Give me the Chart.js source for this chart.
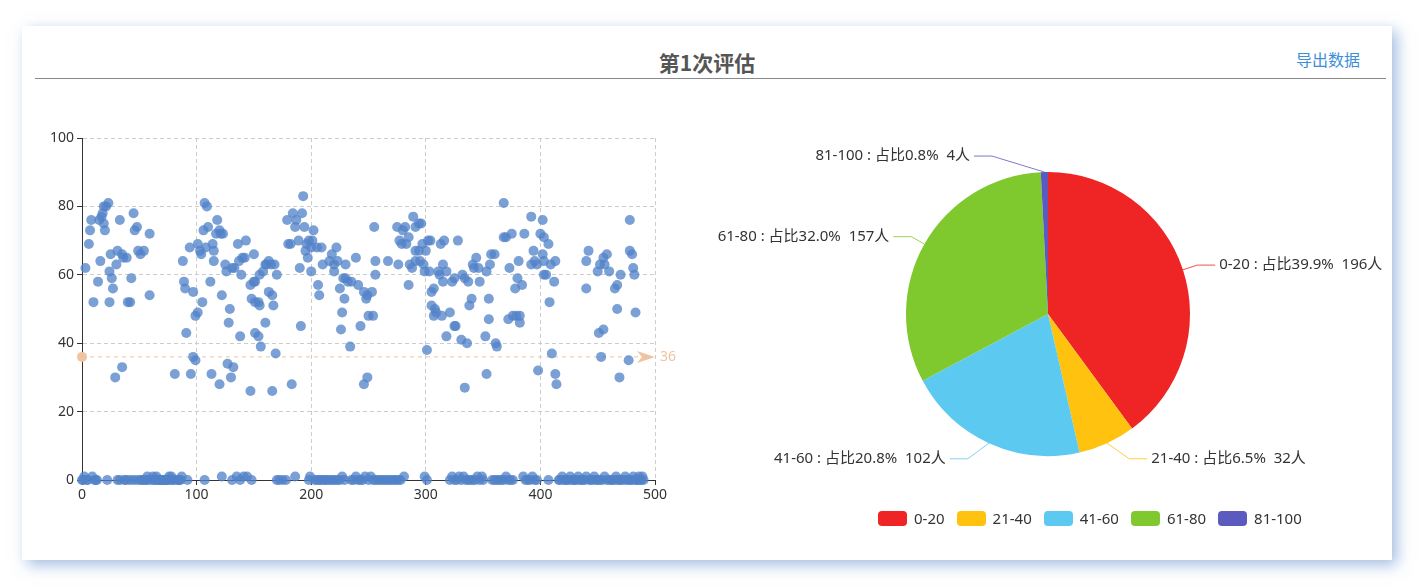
<!DOCTYPE html>
<html>
<head>
<meta charset="utf-8">
<script src="https://cdn.jsdelivr.net/npm/chart.js@4.4.0/dist/chart.umd.min.js"></script>
<style>
html, body { margin: 0; padding: 0; background: #fff; overflow: hidden; }
body { width: 1428px; height: 586px; position: relative; font-family: "Noto Sans CJK SC", "Noto Sans", sans-serif; }
.card { position: absolute; left: 22px; top: 26px; width: 1370px; height: 534px; background: #fff;
  box-shadow: 5px 5px 14px rgba(90, 135, 200, 0.55); }
.title { position: absolute; left: 22px; width: 1370px; top: 49px; line-height: 26px; text-align: center;
  font-size: 21px; font-weight: bold; color: #555; }
.export { position: absolute; left: 1296px; top: 48px; line-height: 22px; font-size: 16px; color: #3d8fd8; }
.rule { position: absolute; left: 35px; top: 78px; width: 1351px; height: 1px; background: #8a8a8a; }
#scatter { position: absolute; left: 35px; top: 110px; }
#pie { position: absolute; left: 700px; top: 100px; }
.legend { position: absolute; left: 878px; top: 511px; display: flex; align-items: center;
  font-family: "Noto Sans", sans-serif; font-size: 15px; color: #333; }
.legend span.box { display: inline-block; width: 29px; height: 15px; border-radius: 4px; margin-right: 7px; }
.legend div { display: flex; align-items: center; margin-right: 12px; line-height: 15px; }
</style>
</head>
<body>
<div class="card"></div>
<div class="title">第1次评估</div>
<div class="export">导出数据</div>
<div class="rule"></div>
<canvas id="scatter" width="660" height="400"></canvas>
<canvas id="pie" width="700" height="430"></canvas>
<div class="legend" id="legend"></div>
<script>
// scores above 20 (student no. / score)
const scoreX = [
  3, 6, 7, 8, 10, 14, 15, 16, 17, 18,
  19, 19, 20, 21, 23, 24, 24, 25, 26, 27,
  29, 30, 31, 33, 35, 35, 36, 39, 40, 42,
  43, 45, 46, 48, 49, 51, 54, 59, 59, 81,
  88, 89, 90, 91, 94, 95, 97, 97, 99, 99,
  101, 101, 103, 104, 105, 106, 107, 108, 109, 110,
  112, 113, 114, 115, 115, 117, 118, 120, 120, 121,
  122, 123, 125, 126, 127, 128, 129, 130, 131, 132,
  133, 136, 137, 138, 139, 140, 142, 143, 147, 147,
  148, 150, 150, 151, 151, 151, 154, 154, 155, 155,
  156, 158, 160, 160, 161, 163, 163, 165, 166, 166,
  167, 168, 169, 170, 179, 180, 182, 183, 184, 186,
  187, 189, 190, 191, 192, 193, 194, 195, 196, 197,
  198, 200, 200, 201, 202, 205, 206, 207, 209, 210,
  216, 218, 220, 220, 222, 223, 225, 226, 227, 228,
  229, 230, 230, 232, 234, 235, 239, 241, 243, 246,
  246, 248, 249, 249, 250, 253, 254, 255, 256, 256,
  267, 275, 276, 277, 279, 280, 282, 283, 285, 285,
  286, 288, 289, 291, 291, 291, 294, 294, 295, 296,
  297, 298, 299, 300, 301, 302, 303, 304, 305, 305,
  307, 307, 308, 309, 311, 312, 313, 314, 315, 315,
  316, 318, 318, 321, 323, 325, 325, 326, 328, 331,
  332, 334, 334, 336, 337, 338, 340, 341, 342, 344,
  346, 347, 352, 353, 353, 355, 355, 356, 357, 360,
  361, 362, 368, 368, 370, 372, 373, 375, 376, 378,
  379, 380, 381, 382, 382, 384, 386, 392, 392, 394,
  395, 397, 398, 400, 402, 402, 403, 403, 403, 405,
  407, 408, 409, 410, 412, 413, 413, 414, 440, 440,
  442, 450, 451, 452, 453, 455, 455, 456, 458, 460,
  465, 467, 467, 469, 470, 477, 478, 478, 480, 481,
  482, 483
];
const scoreY = [
  62, 69, 73, 76, 52, 58, 76, 64, 77, 78,
  75, 80, 73, 80, 81, 52, 61, 66, 59, 56,
  30, 63, 67, 76, 33, 66, 65, 65, 52, 52,
  59, 78, 73, 74, 67, 66, 67, 72, 54, 31,
  64, 58, 56, 43, 68, 31, 55, 36, 35, 48,
  49, 69, 67, 66, 52, 73, 81, 68, 80, 74,
  58, 31, 69, 67, 64, 72, 76, 73, 28, 72,
  54, 72, 63, 61, 34, 46, 50, 30, 62, 33,
  62, 69, 64, 42, 60, 65, 65, 70, 26, 57,
  53, 58, 66, 58, 52, 43, 52, 42, 51, 60,
  39, 61, 63, 46, 63, 64, 55, 63, 54, 26,
  51, 63, 37, 60, 76, 69, 69, 28, 78, 74,
  76, 70, 62, 45, 78, 83, 74, 67, 69, 65,
  70, 68, 61, 70, 73, 68, 57, 54, 68, 63,
  64, 66, 63, 61, 68, 64, 56, 44, 49, 59,
  53, 59, 63, 58, 39, 58, 65, 57, 45, 28,
  55, 53, 30, 54, 48, 55, 48, 74, 60, 64,
  64, 74, 63, 70, 69, 73, 74, 69, 57, 71,
  63, 62, 77, 74, 67, 64, 75, 67, 64, 75,
  69, 63, 61, 67, 38, 70, 61, 70, 55, 51,
  56, 48, 50, 49, 61, 60, 69, 48, 63, 58,
  70, 61, 42, 49, 58, 59, 45, 45, 70, 41,
  60, 59, 27, 40, 58, 51, 53, 63, 62, 65,
  62, 58, 42, 31, 61, 47, 53, 63, 66, 66,
  40, 39, 81, 71, 71, 47, 62, 72, 48, 56,
  48, 59, 64, 48, 46, 57, 72, 77, 63, 67,
  64, 63, 32, 72, 76, 66, 64, 71, 60, 60,
  69, 52, 63, 37, 58, 64, 31, 28, 64, 56,
  67, 61, 43, 63, 36, 65, 44, 63, 66, 61,
  56, 57, 50, 30, 60, 35, 76, 67, 66, 62,
  60, 49
];
// scores at the bottom (0 - 1)
const lowX = [
  0, 1, 2, 4, 5, 9, 11, 12, 13, 22,
  31, 33, 37, 38, 41, 44, 47, 50, 52, 53,
  55, 56, 57, 58, 61, 62, 63, 64, 65, 66,
  67, 68, 69, 70, 71, 72, 73, 74, 75, 76,
  77, 78, 79, 80, 83, 84, 85, 86, 87, 92,
  107, 122, 131, 135, 138, 141, 144, 148, 170, 172,
  175, 178, 186, 199, 198, 203, 205, 207, 208, 210,
  212, 213, 215, 217, 219, 221, 223, 225, 227, 229,
  235, 237, 239, 241, 243, 245, 247, 250, 252, 254,
  256, 258, 260, 262, 264, 266, 268, 270, 272, 274,
  276, 278, 281, 299, 301, 321, 323, 325, 327, 329,
  331, 333, 335, 337, 339, 341, 343, 345, 347, 349,
  350, 358, 360, 362, 364, 366, 368, 370, 372, 374,
  376, 385, 387, 389, 391, 393, 395, 397, 407, 416,
  417, 419, 420, 422, 423, 424, 426, 427, 429, 430,
  431, 433, 434, 436, 437, 439, 440, 443, 444, 446,
  447, 449, 450, 452, 454, 456, 458, 460, 462, 463,
  465, 466, 468, 469, 471, 473, 474, 476, 477, 479,
  480, 481, 483, 484, 485, 486, 487, 488, 489, 490
];
const lowY = [
  0, 0, 1, 0, 0, 1, 0, 0, 0, 0,
  0, 0, 0, 0, 0, 0, 0, 0, 0, 0,
  0, 0, 1, 0, 0, 1, 0, 0, 1, 0,
  0, 0, 0, 0, 0, 0, 0, 0, 0, 1,
  0, 1, 0, 0, 0, 0, 0, 0, 1, 0,
  0, 1, 0, 1, 0, 1, 1, 0, 0, 0,
  0, 0, 1, 1, 0, 0, 0, 0, 0, 0,
  0, 0, 0, 0, 0, 0, 0, 0, 1, 0,
  0, 0, 1, 0, 0, 0, 1, 0, 1, 0,
  0, 0, 0, 0, 0, 0, 0, 0, 0, 0,
  0, 0, 1, 1, 0, 0, 1, 0, 0, 1,
  0, 1, 0, 0, 0, 0, 0, 1, 0, 1,
  0, 0, 0, 0, 0, 0, 0, 1, 0, 0,
  0, 1, 0, 0, 0, 1, 0, 0, 0, 0,
  0, 1, 0, 0, 0, 0, 1, 0, 0, 0,
  0, 1, 0, 0, 0, 0, 1, 0, 0, 0,
  1, 0, 0, 0, 0, 1, 0, 0, 0, 0,
  0, 1, 0, 0, 0, 0, 1, 0, 0, 0,
  0, 1, 0, 0, 0, 1, 0, 0, 1, 0
];
const avgScore = 36;

const bands = ['0-20', '21-40', '41-60', '61-80', '81-100'];
const bandCount = [196, 32, 102, 157, 4];
const pieColors = ['#ee2524', '#ffc20e', '#5cc9f0', '#7fc92f', '#5a5abf'];

const xTicks = [0, 100, 200, 300, 400, 500];
const yTicks = [0, 20, 40, 60, 80, 100];

const markColor = '#eec4a2';
const tickFont = { family: '"Noto Sans", sans-serif', size: 14 };

const points = scoreX.map((x, i) => ({ x: x, y: scoreY[i] }))
  .concat(lowX.map((x, i) => ({ x: x, y: lowY[i] })));

// average line like an echarts markLine
const avgLine = {
	id: 'avgLine',
	beforeDatasetsDraw(chart) {
		const { ctx, scales: { x, y } } = chart;
		const py = y.getPixelForValue(avgScore);
		const x0 = x.getPixelForValue(xTicks[0]);
		const x1 = x.getPixelForValue(xTicks[xTicks.length - 1]);
		ctx.save();
		ctx.strokeStyle = markColor;
		ctx.fillStyle = markColor;
		ctx.lineWidth = 1;
		ctx.setLineDash([4, 4]);
		ctx.beginPath();
		ctx.moveTo(x0, py);
		ctx.lineTo(x1 - 10, py);
		ctx.stroke();
		ctx.setLineDash([]);
		ctx.beginPath();
		ctx.arc(x0, py, 5, 0, Math.PI * 2);
		ctx.fill();
		ctx.beginPath();
		ctx.moveTo(x1, py);
		ctx.lineTo(x1 - 18, py - 6);
		ctx.lineTo(x1 - 13, py);
		ctx.lineTo(x1 - 18, py + 6);
		ctx.closePath();
		ctx.fill();
		ctx.font = '14px "Noto Sans", sans-serif';
		ctx.textBaseline = 'middle';
		ctx.fillText(String(avgScore), x1 + 5, py);
		ctx.restore();
	},
};

const scatterChart = new Chart(document.getElementById('scatter'), {
	type: 'scatter',
	data: {
		datasets: [
			{
				data: points,
				backgroundColor: 'rgba(82, 130, 200, 0.76)',
				borderWidth: 0,
				pointRadius: 5,
				pointHoverRadius: 5,
				clip: false,
			},
		],
	},
	options: {
		responsive: false,
		animation: false,
		layout: { padding: { left: 0, top: 28, right: 40, bottom: 0 } },
		plugins: { legend: { display: false }, tooltip: { enabled: false } },
		scales: {
			x: {
				type: 'linear',
				min: xTicks[0],
				max: xTicks[xTicks.length - 1],
				afterBuildTicks: (s) => { s.ticks = xTicks.map((v) => ({ value: v })) },
				afterFit: (s) => { s.height = 30 },
				ticks: { color: '#333', font: tickFont, padding: 2, maxRotation: 0 },
				grid: { color: '#ccc', tickColor: '#333', tickLength: 5 },
				border: { color: '#333', width: 1, dash: [4, 3] },
			},
			y: {
				min: yTicks[0],
				max: yTicks[yTicks.length - 1],
				afterBuildTicks: (s) => { s.ticks = yTicks.map((v) => ({ value: v })) },
				afterFit: (s) => { s.width = 47 },
				ticks: { color: '#333', font: tickFont, padding: 3 },
				grid: { color: '#ccc', tickColor: '#333', tickLength: 5 },
				border: { color: '#333', width: 1, dash: [4, 3] },
			},
		},
	},
	plugins: [avgLine],
});

// pie labels with leader lines
const bendShift = [0, 16, 15, 0, 52]
const bendDrop = [0, 2, 2, 0, -1]
const pieLabels = {
	id: 'pieLabels',
	afterDatasetsDraw(chart) {
		const ctx = chart.ctx;
		const total = bandCount.reduce((a, b) => a + b, 0);
		chart.getDatasetMeta(0).data.forEach((arc, i) => {
			const { x, y, startAngle, endAngle, outerRadius } = arc;
			const mid = (startAngle + endAngle) / 2;
			const c = Math.cos(mid), s = Math.sin(mid);
			const side = c >= 0 ? 1 : -1;
			const sx = x + outerRadius * c, sy = y + outerRadius * s;
			const bx = x + (outerRadius + 15) * c + side * bendShift[i];
			const by = y + (outerRadius + 15) * s + bendDrop[i];
			const ex = bx + side * 18;
			ctx.save();
			ctx.strokeStyle = pieColors[i];
			ctx.globalAlpha = 0.8;
			ctx.lineWidth = 1;
			ctx.beginPath();
			ctx.moveTo(sx, sy);
			ctx.lineTo(bx, by);
			ctx.lineTo(ex, by);
			ctx.stroke();
			ctx.globalAlpha = 1;
			const pct = ((bandCount[i] / total) * 100).toFixed(1);
			ctx.fillStyle = '#333';
			ctx.font = '15px "Noto Sans", "Noto Sans CJK SC", sans-serif';
			ctx.textBaseline = 'middle';
			ctx.textAlign = side > 0 ? 'left' : 'right';
			ctx.fillText(bands[i] + ' : 占比' + pct + '%  ' + bandCount[i] + '人', ex + side * 4, by);
			ctx.restore();
		});
	},
};

const pieChart = new Chart(document.getElementById('pie'), {
	type: 'pie',
	data: {
		labels: bands,
		datasets: [
			{
				data: bandCount,
				backgroundColor: pieColors,
				borderWidth: 0,
				radius: 142,
			},
		],
	},
	options: {
		responsive: false,
		animation: false,
		layout: { padding: { left: 0, right: 4, top: 0, bottom: 2 } },
		plugins: { legend: { display: false }, tooltip: { enabled: false } },
	},
	plugins: [pieLabels],
});

// legend row under the pie
const legendEl = document.getElementById('legend');
bands.forEach((b, i) => {
	const item = document.createElement('div');
	const box = document.createElement('span');
	box.className = 'box';
	box.style.background = pieColors[i];
	item.appendChild(box);
	item.appendChild(document.createTextNode(b));
	legendEl.appendChild(item);
});
</script>
</body>
</html>
